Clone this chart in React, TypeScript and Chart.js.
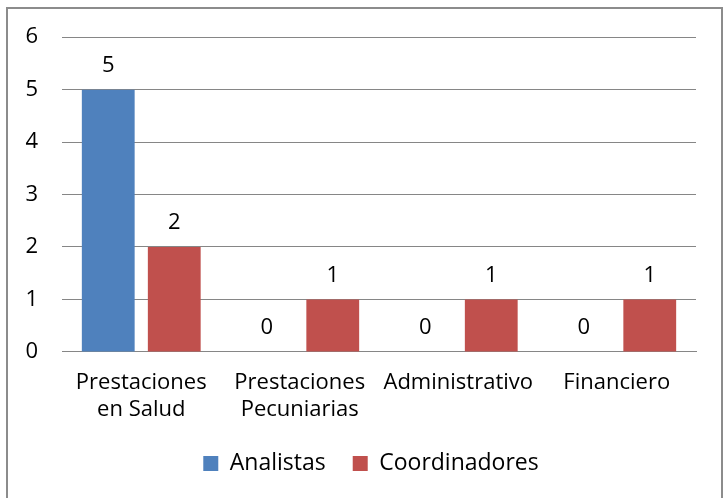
import React, { useEffect, useRef } from "react";
import { Chart, registerables } from "chart.js";

Chart.register(...registerables);

const categories: (string | string[])[] = [
  ["Prestaciones", "en Salud"],
  ["Prestaciones", "Pecuniarias"],
  "Administrativo",
  "Financiero",
];
const analistas = [5, 0, 0, 0];
const coordinadores = [2, 1, 1, 1];
const seriesNames = ["Analistas", "Coordinadores"];
const yTicks = [0, 1, 2, 3, 4, 5, 6];

const FONT = "'Open Sans', Lato, sans-serif";
const FS = 22;

const valueLabels = {
  id: "valueLabels",
  afterDatasetsDraw(chart: any) {
    const ctx = chart.ctx;
    ctx.save();
    ctx.font = `${FS}px ${FONT}`;
    ctx.fillStyle = "#000";
    ctx.textAlign = "center";
    ctx.textBaseline = "middle";
    chart.data.datasets.forEach((ds: any, i: number) => {
      const meta = chart.getDatasetMeta(i);
      meta.data.forEach((el: any, j: number) => {
        ctx.fillText(String(ds.data[j]), el.x, el.y - 24);
      });
    });
    ctx.restore();
  },
};

const legendShift = {
  id: "legendShift",
  afterLayout(chart: any) {
    const lg = chart.legend;
    if (!lg) return;
    lg.left += 23;
    lg.right += 23;
    lg.top -= 7;
    lg.bottom -= 7;
  },
};

export default function App() {
  const ref = useRef<HTMLCanvasElement>(null);
  useEffect(() => {
    const chart = new Chart(ref.current!, {
      type: "bar",
      data: {
        labels: categories,
        datasets: [
          { label: seriesNames[0], data: analistas, backgroundColor: "#4F81BD" },
          { label: seriesNames[1], data: coordinadores, backgroundColor: "#C0504D" },
        ],
      },
      plugins: [valueLabels, legendShift],
      options: {
        animation: false,
        responsive: false,
        devicePixelRatio: 1,
        layout: { padding: { top: 37, right: 28, left: 0, bottom: 6 } },
        datasets: { bar: { categoryPercentage: 0.833, barPercentage: 0.8 } },
        scales: {
          x: {
            grid: { display: false },
            border: { display: true, color: "#868686", width: 1 },
            ticks: {
              color: "#000",
              font: { family: FONT, size: FS, lineHeight: 1.23 },
              maxRotation: 0,
              autoSkip: false,
              padding: 9,
            },
          },
          y: {
            min: 0,
            max: 6,
            afterFit: (s: any) => {
              s.width = 62;
            },
            afterBuildTicks: (s: any) => {
              s.ticks = yTicks.map((v) => ({ value: v }));
            },
            grid: { color: "#868686", drawTicks: false },
            border: { display: false },
            ticks: {
              color: "#000",
              font: { family: FONT, size: FS },
              padding: 24,
            },
          },
        },
        plugins: {
          legend: {
            position: "bottom",
            labels: {
              color: "#000",
              font: { family: FONT, size: 23 },
              boxWidth: 15,
              boxHeight: 15,
              padding: 27,
            },
          },
          tooltip: { enabled: false },
        },
      },
    });
    return () => chart.destroy();
  }, []);
  return (
    <div style={{ position: "fixed", left: 0, top: 0, width: 724, height: 498, background: "#fff" }}>
      <canvas ref={ref} width={724} height={498} style={{ position: "absolute", left: 0, top: 0 }} />
      <div
        style={{
          position: "absolute",
          left: 6,
          top: 7,
          width: 717,
          height: 491,
          boxSizing: "border-box",
          border: "2px solid #8c8c8c",
          borderBottom: "none",
          pointerEvents: "none",
        }}
      />
    </div>
  );
}
